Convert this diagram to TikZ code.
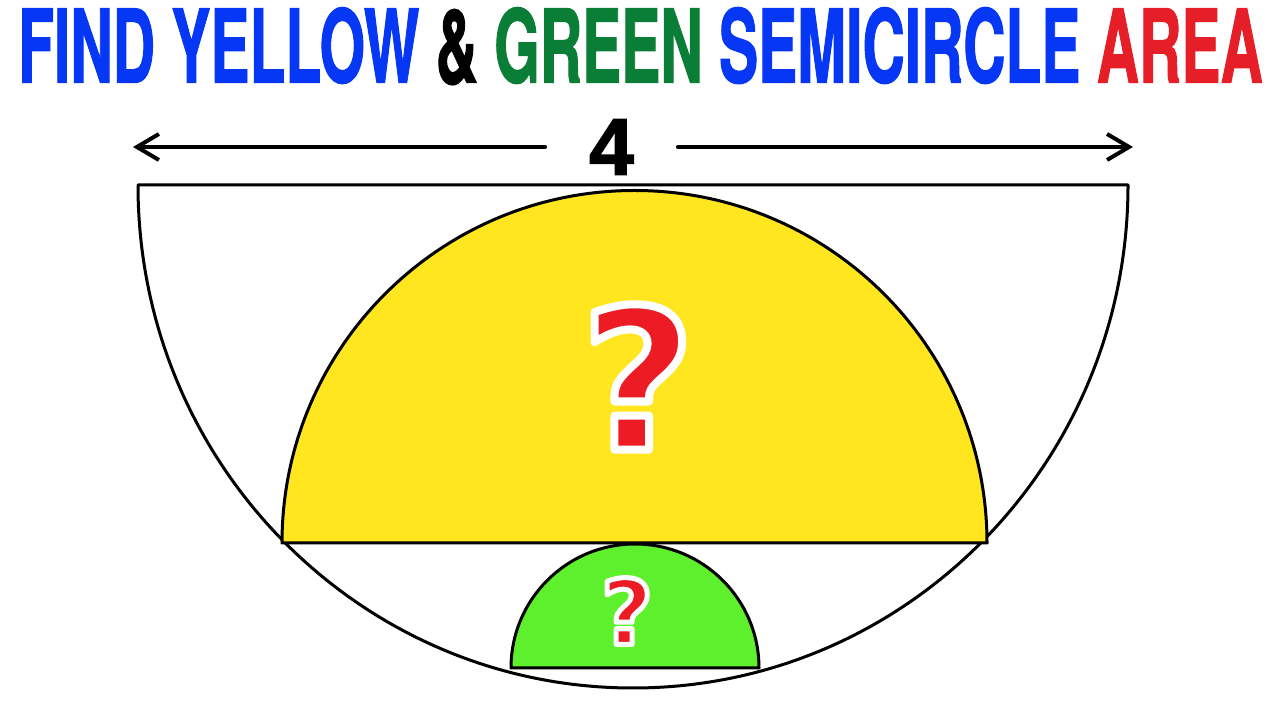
\documentclass[tikz,border=0pt]{standalone}
\usepackage{graphicx}
\usepackage{fontspec}
\setmainfont{Liberation Sans}
\newfontfamily\headfont{TeX Gyre Heros}[BoldFeatures={FakeBold=1.5}]
\newfontfamily\numfont{Liberation Sans}[BoldFeatures={FakeBold=2}]
\newfontfamily\qfont{DejaVu Sans}
\usetikzlibrary{arrows.meta}

\definecolor{headblue}{RGB}{5,55,245}
\definecolor{headgreen}{RGB}{10,125,55}
\definecolor{headred}{RGB}{230,30,40}
\definecolor{semiyellow}{RGB}{255,230,30}
\definecolor{semigreen}{RGB}{95,240,45}
\definecolor{qred}{RGB}{237,28,36}

\tikzset{
  rim/.style={line width=3pt, black, line join=round},
  arrowline/.style={line width=4pt, line cap=round, -{Straight Barb[length=22pt,width=26pt,line width=4pt]}},
  qmark/.style={text=qred, inner sep=0pt}
}

% red question mark, glyph stroked in white for the rim
\newcommand{\rimmed}[2]{\special{pdf:literal direct 2 Tr #2 w 1 1 1 RG 1 j}#1\special{pdf:literal direct 0 Tr}}

\begin{document}
\begin{tikzpicture}[x=1pt,y=1pt]
\useasboundingbox (0,0) rectangle (1280,720);

% heading
\node[anchor=south west, inner sep=0pt] (heading) at (18,635)
  {\resizebox{1244pt}{75pt}{\headfont\bfseries
   \textcolor{headblue}{FIND YELLOW} \textcolor{black}{\&} \textcolor{headgreen}{GREEN}
   \textcolor{headblue}{SEMICIRCLE} \textcolor{headred}{AREA}}};

% width of the big semicircle
\node[inner xsep=44pt, inner ysep=0pt] (four) at (611.5,573)
  {\fontsize{80}{80}\selectfont\numfont\bfseries 4};
\coordinate (leftend) at (133,573);
\coordinate (rightend) at (1133,573);
\draw[arrowline] (four.west) -- (leftend);
\draw[arrowline] (four.east) -- (rightend);

% big semicircle
\draw[rim] (138,535) arc[start angle=180, end angle=360, x radius=495, y radius=503] -- cycle;

% yellow semicircle
\filldraw[rim, fill=semiyellow] (282,177) arc[start angle=180, end angle=0, radius=352.5] -- cycle;

% green semicircle
\filldraw[rim, fill=semigreen] (511,52) arc[start angle=180, end angle=0, radius=124] -- cycle;

\node[qmark] (qyellow) at (638,343) {\fontsize{196}{196}\selectfont\qfont\bfseries\rimmed{?}{8}};
\node[qmark] (qgreen) at (627,109) {\fontsize{90}{90}\selectfont\qfont\bfseries\rimmed{?}{5}};
\end{tikzpicture}
\end{document}
